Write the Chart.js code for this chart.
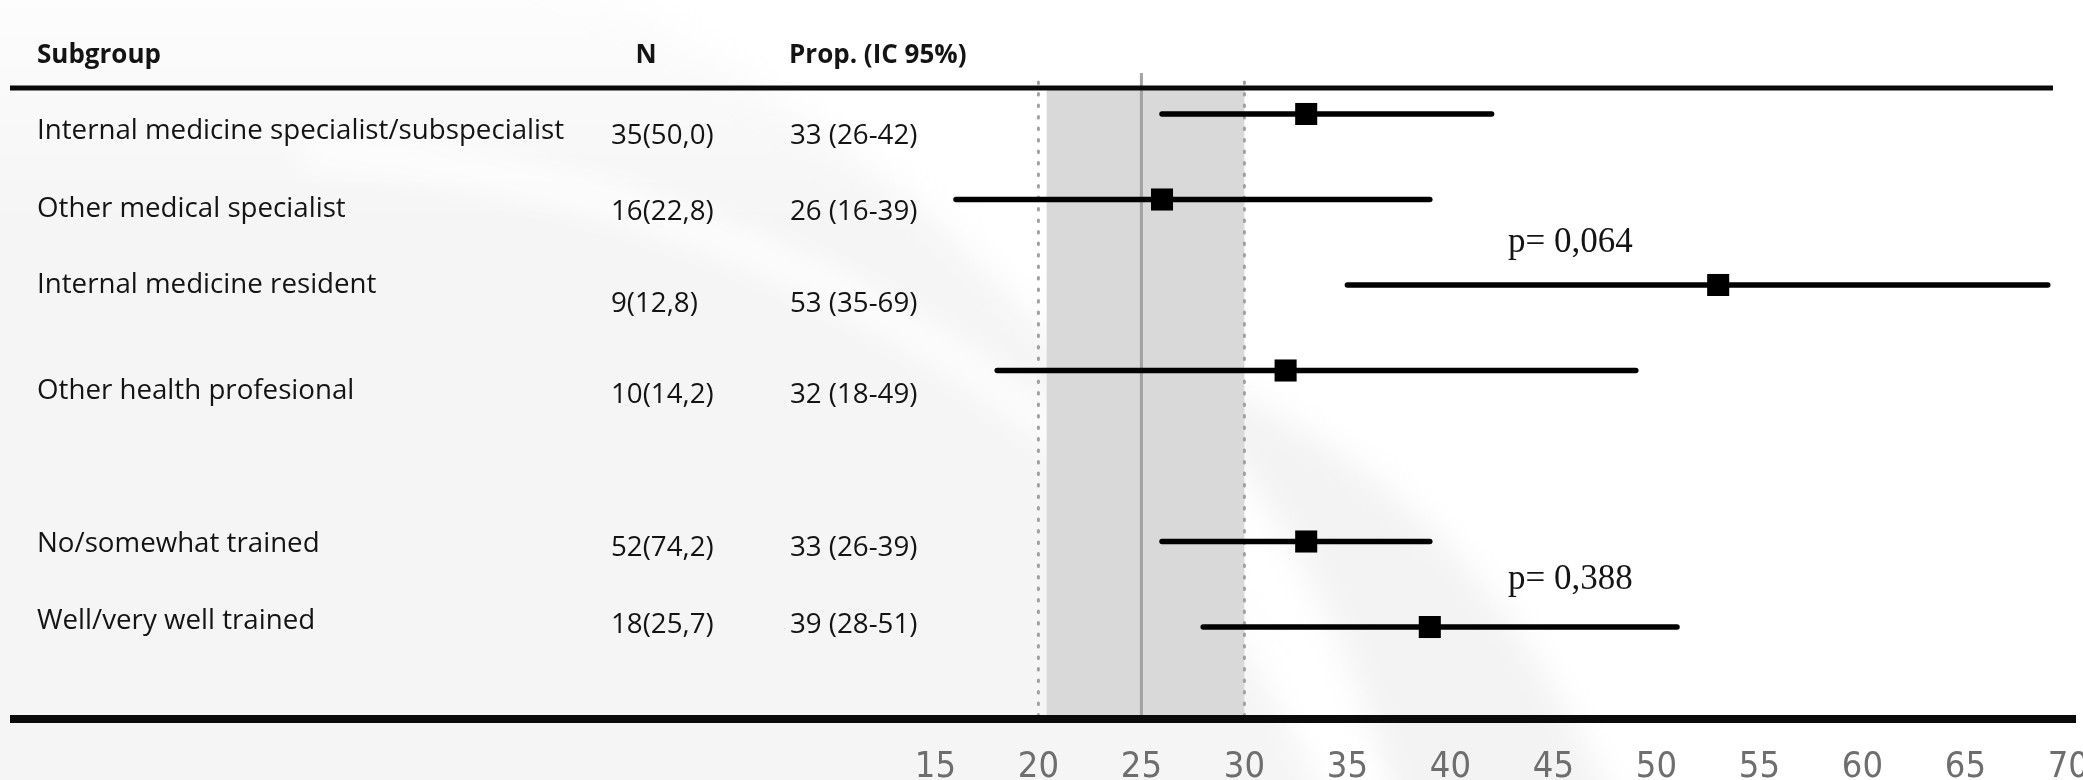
<!DOCTYPE html>
<html>
<head>
<meta charset="utf-8">
<title>Subgroup forest plot</title>
<script src="https://cdn.jsdelivr.net/npm/chart.js@4.4.1/dist/chart.umd.min.js"></script>
<style>
  html, body { margin: 0; padding: 0; background: #fff; }
  #plot { display: block; }
</style>
</head>
<body>
<canvas id="plot" width="2083" height="780"></canvas>
<script>
// data
const headers = ['Subgroup', 'N', 'Prop. (IC 95%)'];
const subgroups = [
    'Internal medicine specialist/subspecialist',
    'Other medical specialist',
    'Internal medicine resident',
    'Other health profesional',
    'No/somewhat trained',
    'Well/very well trained'
];
const nCounts = [35, 16, 9, 10, 52, 18];
const nPercent = [50.0, 22.8, 12.8, 14.2, 74.2, 25.7];
const props = [33, 26, 53, 32, 33, 39];
const ciLow = [26, 16, 35, 18, 26, 28];
const ciHigh = [42, 39, 69, 49, 39, 51];
const rowPos = [1, 2, 3, 4, 6, 7];
const pValues = ['p= 0,064', 'p= 0,388'];
const refValue = 25;
const refLow = 20;
const refHigh = 30;
const xTicks = [15, 20, 25, 30, 35, 40, 45, 50, 55, 60, 65, 70];

// layout (pixels / axis units), not data
const xMin = -30.41, xMax = 70.71;
const yMin = 0.5205, yMax = 8.076;
const labelBase = [139, 217, 293, 399, 552, 629];
const statBase = [144, 220, 312, 403, 556, 633];
const pNoteAt = [{x: 42.8, y: 2.614}, {x: 42.8, y: 6.556}];
const bodyFont = '27.7px "Open Sans", "Liberation Sans", sans-serif';
const headFont = '700 26px "Open Sans", "Liberation Sans", sans-serif';

function fmtComma(v) {
    return v.toFixed(1).replace('.', ',');
}

function paintBackground(ctx, w, h) {
    ctx.save();
    ctx.fillStyle = '#ffffff';
    ctx.fillRect(0, 0, w, h);
    ctx.filter = 'blur(16px)';
    const g = ctx.createLinearGradient(0, 0, 0, 230);
    g.addColorStop(0, '#fdfdfd');
    g.addColorStop(1, '#f4f5f4');
    ctx.fillStyle = g;
    ctx.beginPath();
    ctx.moveTo(-60, -60);
    ctx.lineTo(500, -60);
    ctx.bezierCurveTo(900, 120, 1200, 420, 1335, 840);
    ctx.lineTo(-60, 840);
    ctx.closePath();
    ctx.fill();
    // second grey sweep, lower right
    ctx.fillStyle = '#f2f3f2';
    ctx.beginPath();
    ctx.moveTo(1150, 360);
    ctx.bezierCurveTo(1280, 500, 1360, 640, 1400, 840);
    ctx.lineTo(1630, 840);
    ctx.bezierCurveTo(1520, 580, 1380, 440, 1150, 360);
    ctx.closePath();
    ctx.fill();
    // faint white streak
    ctx.strokeStyle = 'rgba(255,255,255,0.9)';
    ctx.lineWidth = 30;
    ctx.beginPath();
    ctx.moveTo(300, 150);
    ctx.bezierCurveTo(800, 180, 1150, 430, 1385, 820);
    ctx.stroke();
    ctx.restore();
}

const forestDecor = {
    id: 'forestDecor',
    beforeDraw(chart) {
        paintBackground(chart.ctx, chart.width, chart.height);
    },
    beforeDatasetsDraw(chart) {
        const ctx = chart.ctx;
        const x = chart.scales.x;
        const area = chart.chartArea;
        ctx.save();
        // shaded reference band
        ctx.fillStyle = '#d9d9d9';
        const b0 = x.getPixelForValue(refLow + 0.4);
        const b1 = x.getPixelForValue(refHigh);
        ctx.fillRect(b0, 88, b1 - b0, area.bottom - 88);
        // dotted limits
        ctx.strokeStyle = '#a0a0a0';
        ctx.lineWidth = 3;
        ctx.lineCap = 'round';
        ctx.setLineDash([1.5, 10]);
        [refLow, refHigh].forEach(v => {
            const px = x.getPixelForValue(v);
            ctx.beginPath();
            ctx.moveTo(px, 82);
            ctx.lineTo(px, area.bottom);
            ctx.stroke();
        });
        // solid reference
        ctx.setLineDash([]);
        ctx.lineCap = 'butt';
        ctx.strokeStyle = '#a2a2a2';
        ctx.lineWidth = 3;
        const r = x.getPixelForValue(refValue);
        ctx.beginPath();
        ctx.moveTo(r, area.top);
        ctx.lineTo(r, area.bottom);
        ctx.stroke();
        // top rule
        ctx.strokeStyle = '#0a0a0a';
        ctx.lineWidth = 5;
        ctx.beginPath();
        ctx.moveTo(10, 88);
        ctx.lineTo(2053, 88);
        ctx.stroke();
        ctx.restore();
    },
    afterDraw(chart) {
        const ctx = chart.ctx;
        const x = chart.scales.x;
        const y = chart.scales.y;
        ctx.save();
        // bottom rule
        ctx.strokeStyle = '#0a0a0a';
        ctx.lineWidth = 8;
        ctx.beginPath();
        ctx.moveTo(10, 719);
        ctx.lineTo(2076, 719);
        ctx.stroke();

        ctx.fillStyle = '#141414';
        ctx.textBaseline = 'alphabetic';
        ctx.font = headFont;
        ctx.textAlign = 'left';
        ctx.fillText(headers[0], 37, 63);
        ctx.textAlign = 'center';
        ctx.fillText(headers[1], 646, 63);
        ctx.textAlign = 'left';
        ctx.fillText(headers[2], 789, 63);

        ctx.font = bodyFont;
        subgroups.forEach((s, i) => {
            ctx.fillText(s, 37, labelBase[i]);
            ctx.fillText(`${nCounts[i]}(${fmtComma(nPercent[i])})`, 611, statBase[i]);
            ctx.fillText(`${props[i]} (${ciLow[i]}-${ciHigh[i]})`, 790, statBase[i]);
        });

        ctx.font = '35px "Liberation Serif", "Times New Roman", serif';
        pValues.forEach((p, i) => {
            ctx.fillText(p, x.getPixelForValue(pNoteAt[i].x), y.getPixelForValue(pNoteAt[i].y));
        });
        ctx.restore();
    }
};

const ciSets = rowPos.map((r, i) => ({
    data: [{x: ciLow[i], y: r}, {x: ciHigh[i], y: r}],
    showLine: true,
    borderColor: '#000',
    borderWidth: 5.5,
    borderCapStyle: 'round',
    pointRadius: 0,
    order: 1
}));

const pointSet = {
    data: rowPos.map((r, i) => ({x: props[i], y: r})),
    pointStyle: 'rect',
    pointRadius: 15.6,
    backgroundColor: '#000',
    borderWidth: 0,
    order: 0
};

new Chart(document.getElementById('plot'), {
    type: 'scatter',
    data: { datasets: [pointSet, ...ciSets] },
    plugins: [forestDecor],
    options: {
        responsive: false,
        animation: false,
        events: [],
        layout: { autoPadding: false, padding: { top: 73, left: 0, right: 0, bottom: 0 } },
        plugins: { legend: { display: false }, tooltip: { enabled: false } },
        scales: {
            x: {
                type: 'linear',
                min: xMin,
                max: xMax,
                grid: { display: false },
                border: { display: false },
                afterBuildTicks: axis => { axis.ticks = xTicks.map(v => ({ value: v })); },
                afterFit: axis => {
                    axis.height = 61;
                    axis.paddingLeft = 0;
                    axis.paddingRight = 0;
                },
                ticks: {
                    padding: 19,
                    color: '#6e6e6e',
                    autoSkip: false,
                    maxRotation: 0,
                    font: { family: '"Liberation Sans Narrow", "DejaVu Sans Condensed", sans-serif', size: 36 }
                }
            },
            y: {
                type: 'linear',
                reverse: true,
                min: yMin,
                max: yMax,
                display: false
            }
        }
    }
});
</script>
</body>
</html>
